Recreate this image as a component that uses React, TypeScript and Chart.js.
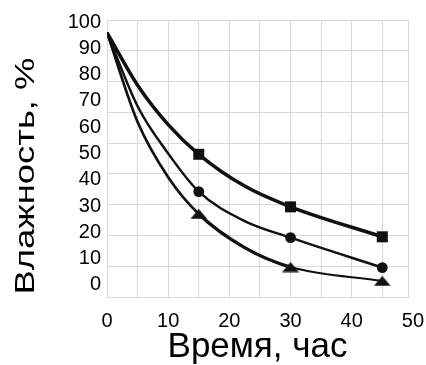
import React, { useEffect, useRef } from "react";
import { Chart, registerables } from "chart.js";

Chart.register(...registerables);

// Time, hours
const timeHours = [0, 5, 10, 15, 22.5, 30, 45];
// Moisture, % for the three series
const squareSeries = [96, 76, 61, 49.7, 37.6, 29.7, 18.3];
const circleSeries = [96, 68, 50, 35.5, 24.3, 18, 6.6];
const triangleSeries = [96, 62, 41, 27, 14.2, 6.8, 1.5];
// Times at which markers are drawn
const markerTimes = [15, 30, 45];
// Tick labels
const xTickValues = [0, 5, 10, 15, 20, 25, 30, 35, 40, 45, 50];
const xLabelValues = [0, 10, 20, 30, 40, 50];
const yTickValues = [0, 10, 20, 30, 40, 50, 60, 70, 80, 90, 100];

const xTitle = "Время, час";
const yTitle = "Влажность, %";

const FONT = '"Liberation Sans", Arial, sans-serif';
const GRID = "#d9d9d9";
const INK = "#111111";

function makeTriangle(): HTMLCanvasElement {
  const c = document.createElement("canvas");
  c.width = 18;
  c.height = 11;
  const g = c.getContext("2d")!;
  g.fillStyle = INK;
  g.beginPath();
  g.moveTo(9, 0.5);
  g.lineTo(17.5, 10.5);
  g.lineTo(0.5, 10.5);
  g.closePath();
  g.fill();
  return c;
}

const yTitlePlugin = {
  id: "yTitleStretched",
  afterDraw(chart: any) {
    const ctx = chart.ctx;
    ctx.save();
    ctx.translate(26, 176);
    ctx.rotate(-Math.PI / 2);
    ctx.scale(1.3, 1);
    ctx.font = `28px ${FONT}`;
    ctx.fillStyle = "#000";
    ctx.textAlign = "center";
    ctx.textBaseline = "middle";
    ctx.fillText(yTitle, 0, 0);
    ctx.restore();
  },
};

export default function App() {
  const ref = useRef<HTMLCanvasElement | null>(null);

  useEffect(() => {
    document.body.style.margin = "0";
    const canvas = ref.current!;
    const tri = makeTriangle();
    const toPts = (ys: number[]) => timeHours.map((x, i) => ({ x, y: ys[i] }));
    const radiusFor = (r: number) => (ctx: any) =>
      markerTimes.includes(timeHours[ctx.dataIndex]) ? r : 0;

    const chart = new Chart(canvas, {
      type: "line",
      data: {
        datasets: [
          {
            data: toPts(squareSeries),
            borderColor: INK,
            backgroundColor: INK,
            borderWidth: 3.5,
            pointStyle: "rect",
            pointRadius: radiusFor(7.8),
            pointBorderWidth: 0,
            cubicInterpolationMode: "monotone",
          },
          {
            data: toPts(circleSeries),
            borderColor: INK,
            backgroundColor: INK,
            borderWidth: 2.5,
            pointStyle: "circle",
            pointRadius: radiusFor(5.4),
            pointBorderWidth: 0,
            cubicInterpolationMode: "monotone",
          },
          {
            data: toPts(triangleSeries),
            borderColor: INK,
            backgroundColor: INK,
            borderWidth: 3,
            pointStyle: tri as any,
            pointRadius: radiusFor(6),
            pointBorderWidth: 0,
            cubicInterpolationMode: "monotone",
            segment: {
              borderWidth: (c: any) => {
                const x0 = timeHours[c.p0DataIndex];
                if (x0 >= 30) return 2.2;
                if (x0 >= 15) return 3.3;
                return 2.7;
              },
            },
          },
        ],
      },
      options: {
        responsive: false,
        animation: false,
        devicePixelRatio: 1,
        layout: { padding: { top: 20, right: 18, bottom: 0, left: 0 } },
        plugins: {
          legend: { display: false },
          tooltip: { enabled: false },
        },
        scales: {
          x: {
            type: "linear",
            min: 0,
            max: 49.2,
            afterBuildTicks: (s: any) => {
              s.ticks = xTickValues.map((v) => ({ value: v }));
            },
            afterFit: (s: any) => {
              s.height = 68;
              s.paddingRight = 0;
              s.paddingLeft = 0;
            },
            grid: {
              color: (c: any) => (c.tick && c.tick.value > 49.2 ? "rgba(0,0,0,0)" : GRID),
              lineWidth: 1,
              drawTicks: false,
            },
            border: { display: true, color: GRID },
            ticks: {
              autoSkip: false,
              maxRotation: 0,
              padding: 12,
              color: "#000",
              font: { family: FONT, size: 20 },
              callback: (v: any) => (xLabelValues.includes(Number(v)) ? String(v) : ""),
            },
            title: {
              display: true,
              text: xTitle,
              color: "#000",
              font: { family: FONT, size: 35, lineHeight: 1 },
              padding: { top: 0, bottom: 0 },
            },
          },
          y: {
            type: "linear",
            position: "left",
            min: -4.6,
            max: 100.8,
            afterBuildTicks: (s: any) => {
              s.ticks = yTickValues.map((v) => ({ value: v }));
            },
            afterFit: (s: any) => {
              s.width = 107;
            },
            grid: { display: false, drawTicks: false },
            border: { display: false },
            ticks: {
              padding: 6,
              color: "#000",
              font: { family: FONT, size: 20 },
            },
          },
          yGrid: {
            type: "linear",
            position: "right",
            min: 0,
            max: 9,
            ticks: { display: false, stepSize: 1 },
            afterFit: (s: any) => {
              s.width = 0;
            },
            grid: { color: GRID, lineWidth: 1, drawTicks: false },
            border: { display: true, color: GRID },
          },
        },
      },
      plugins: [yTitlePlugin],
    });
    return () => chart.destroy();
  }, []);

  return (
    <canvas
      ref={ref}
      width={426}
      height={365}
      style={{ display: "block", width: 426, height: 365 }}
    />
  );
}
